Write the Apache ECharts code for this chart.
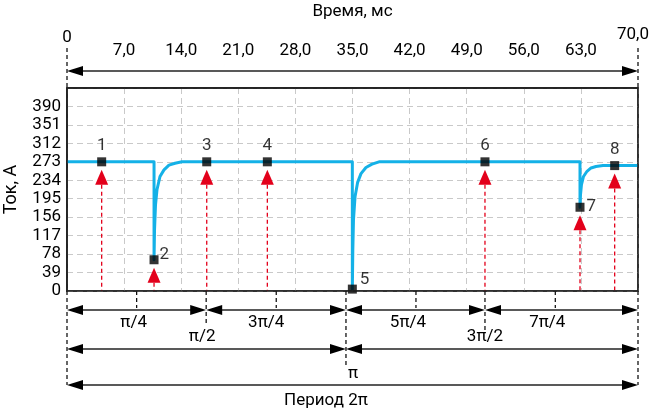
<!DOCTYPE html>
<html>
<head>
<meta charset="utf-8">
<script src="https://cdn.jsdelivr.net/npm/echarts@6/dist/echarts.min.js"></script>
<style>
  html, body { margin: 0; padding: 0; background: #fff; }
  #chart { width: 652px; height: 413px; }
</style>
</head>
<body>
<div id="chart"></div>
<script>
// Axis tick labels
const timeTickLabels = ['0', '7,0', '14,0', '21,0', '28,0', '35,0', '42,0', '49,0', '56,0', '63,0', '70,0'];
const currentTickLabels = ['0', '39', '78', '117', '156', '195', '234', '273', '312', '351', '390'];

// Current waveform (ms, A)
const curveTime = [
  0, 10.67, 10.67, 10.73, 10.85, 11.03, 11.40, 11.89, 12.50, 13.24, 14.10,
  34.98, 34.98, 35.04, 35.12, 35.31, 35.62, 36.04, 36.65, 37.39, 38.25,
  62.89, 62.89, 62.95, 63.07, 63.32, 63.75, 64.24, 64.85, 65.71, 70
];
const curveCurrent = [
  273, 273, 66, 129, 182, 214, 242, 256, 266, 270, 273,
  273, 4, 87, 150, 199, 229, 248, 261, 268, 273,
  273, 177, 203, 225, 242, 253, 260, 263, 265, 265
];

// Numbered measurement points
const pointNames = ['1', '2', '3', '4', '5', '6', '7', '8'];
const pointTime = [4.25, 10.67, 17.13, 24.56, 34.98, 51.24, 62.89, 67.14];
const pointCurrent = [273, 66, 273, 273, 4, 273, 177, 265];
const pointHasArrow = [true, true, true, true, false, true, true, true];

// Phase scale under the plot: positions (ms) and captions
const phaseTime = [0, 8.54, 17.06, 25.65, 34.2, 42.78, 51.24, 59.86, 70];
const phaseNames = ['', 'π/4', 'π/2', '3π/4', 'π', '5π/4', '3π/2', '7π/4', ''];
// Dimension spans: [start ms, end ms, row]
const spanStart = [0, 0, 17.06, 34.2, 51.24, 0, 34.2, 0];
const spanEnd = [70, 17.06, 34.2, 51.24, 70, 34.2, 70, 70];
const spanRow = [0, 1, 1, 1, 1, 2, 2, 3];

const FONT = 'Roboto, "Noto Sans", sans-serif';
const INK = '#000';
const FRAME = '#222';
const RED = '#e3001b';

// plot frame (pixels)
const GRID = { left: 67, right: 14, top: 88, bottom: 122 };
const W = 652, H = 413;

// layout of the annotation rows (pixel offsets from the plot frame)
const rowOffset = [-17, 19, 58, 94];
// dashed guide length below the plot for each phase mark
const guideLen = [94, 17, 32, 17, 76, 17, 39, 17, 94];
// caption placement for each phase mark [dx, dy below plot]
const captionPos = [[0, 0], [-3, 32], [-4, 46], [-10, 32], [7, 83], [-8, 32], [0, 46], [-8, 32], [0, 0]];
const labelPos = ['top', 'right', 'top', 'top', 'right', 'top', 'right', 'top'];
const labelOffset = [[0, 0], [-2, -5], [0, 0], [0, 0], [0, -9], [0, 0], [-1, 0], [0, 0]];

const lineData = curveTime.map((t, i) => [t, curveCurrent[i]]);
const pointData = pointTime.map((t, i) => ({
  value: [t, pointCurrent[i]],
  label: { position: labelPos[i], offset: labelOffset[i], formatter: pointNames[i] }
}));
const arrowData = pointTime.map((t, i) => [t, pointCurrent[i]]).filter((d, i) => pointHasArrow[i]);
const spanData = spanStart.map((s, i) => [s, spanEnd[i], spanRow[i]]);
const phaseData = phaseTime.map((t, i) => [t, i]);

const Y_MAX = 429;

function arrowHead(x, y, dir) {
  // filled dimension arrow, tip at (x, y), pointing left (dir=-1) or right (dir=1)
  const L = 16, Hh = 5;
  return {
    type: 'polygon',
    shape: { points: [[x, y], [x - dir * L, y - Hh], [x - dir * L, y + Hh]] },
    style: { fill: INK }
  };
}

const chart = echarts.init(document.getElementById('chart'), null, { renderer: 'canvas' });

chart.setOption({
  animation: false,
  backgroundColor: '#fff',
  textStyle: { fontFamily: FONT },
  grid: {
    left: GRID.left, right: GRID.right, top: GRID.top, bottom: GRID.bottom,
    containLabel: false,
    outerBoundsMode: 'none',
    show: true, borderColor: FRAME, borderWidth: 1.5, backgroundColor: 'transparent'
  },
  xAxis: {
    type: 'value',
    position: 'top',
    min: 0, max: 70, interval: 7,
    name: 'Время, мс',
    nameLocation: 'middle',
    nameGap: 68,
    nameTextStyle: { fontSize: 17, color: INK, fontFamily: FONT },
    axisLine: { show: true, onZero: false, lineStyle: { color: FRAME, width: 1.5 } },
    axisTick: { show: false },
    axisLabel: {
      margin: 29,
      fontSize: 17,
      color: INK,
      fontFamily: FONT,
      showMinLabel: true,
      showMaxLabel: true,
      formatter: function (v) {
        const i = Math.round(v / 7);
        if (i === 0) return '{first|' + timeTickLabels[i] + '}';
        if (i === 10) return '{last|' + timeTickLabels[i] + '}';
        return timeTickLabels[i];
      },
      rich: {
        first: { fontSize: 17, color: INK, fontFamily: FONT, padding: [0, 0, 13, 0] },
        last: { fontSize: 17, color: INK, fontFamily: FONT, padding: [0, 10, 16, 0] }
      }
    },
    splitLine: { show: true, lineStyle: { color: '#c9c9c9', width: 1, type: [6, 4] } }
  },
  yAxis: {
    type: 'value',
    min: 0, max: Y_MAX, interval: 39,
    name: 'Ток, А',
    nameLocation: 'middle',
    nameGap: 47,
    nameRotate: 90,
    nameTextStyle: { fontSize: 18, color: INK, fontFamily: FONT },
    axisLine: { show: true, onZero: false, lineStyle: { color: FRAME, width: 1.5 } },
    axisTick: { show: false },
    axisLabel: {
      margin: 6,
      fontSize: 17,
      color: INK,
      fontFamily: FONT,
      formatter: function (v) {
        const i = Math.round(v / 39);
        return i < currentTickLabels.length ? currentTickLabels[i] : '';
      }
    },
    splitLine: { show: true, lineStyle: { color: '#c9c9c9', width: 1, type: [6, 4] } }
  },
  series: [
    {
      // phase scale: dashed guides and captions below the plot
      type: 'custom',
      coordinateSystem: 'cartesian2d',
      data: phaseData,
      silent: true,
      z: 1,
      renderItem: function (params, api) {
        const i = api.value(1);
        const x = api.coord([api.value(0), 0])[0];
        const yBottom = api.coord([0, 0])[1];
        const yTop = api.coord([0, Y_MAX])[1];
        const children = [{
          type: 'line',
          shape: { x1: x, y1: yBottom, x2: x, y2: yBottom + guideLen[i] },
          style: { stroke: INK, lineWidth: 1.2, lineDash: [4, 3] }
        }];
        if (i === 0 || i === phaseTime.length - 1) {
          children.push({
            type: 'line',
            shape: { x1: x, y1: yTop - 40, x2: x, y2: yTop },
            style: { stroke: INK, lineWidth: 1.2, lineDash: [4, 3] }
          });
        }
        if (phaseNames[i]) {
          children.push({
            type: 'text',
            x: x + captionPos[i][0],
            y: yBottom + captionPos[i][1],
            style: {
              text: phaseNames[i], fill: INK, font: '17px ' + FONT,
              align: 'center', verticalAlign: 'middle'
            }
          });
        }
        return { type: 'group', children: children };
      }
    },
    {
      // dimension arrows above and below the plot
      type: 'custom',
      coordinateSystem: 'cartesian2d',
      data: spanData,
      silent: true,
      z: 2,
      renderItem: function (params, api) {
        const x0 = api.coord([api.value(0), 0])[0];
        const x1 = api.coord([api.value(1), 0])[0];
        const row = api.value(2);
        const yBottom = api.coord([0, 0])[1];
        const yTop = api.coord([0, Y_MAX])[1];
        const y = row === 0 ? yTop + rowOffset[0] : yBottom + rowOffset[row];
        return {
          type: 'group',
          children: [
            {
              type: 'line',
              shape: { x1: x0 + 4, y1: y, x2: x1 - 4, y2: y },
              style: { stroke: FRAME, lineWidth: 1.5 }
            },
            arrowHead(x0, y, -1),
            arrowHead(x1, y, 1)
          ]
        };
      }
    },
    {
      type: 'line',
      data: lineData,
      smooth: false,
      showSymbol: false,
      silent: true,
      z: 3,
      lineStyle: { color: '#14b1e7', width: 3, cap: 'butt', join: 'round' }
    },
    {
      // red dashed pointers under the measurement points
      type: 'custom',
      coordinateSystem: 'cartesian2d',
      data: arrowData,
      silent: true,
      z: 4,
      renderItem: function (params, api) {
        const p = api.coord([api.value(0), api.value(1)]);
        const yBottom = api.coord([api.value(0), 0])[1];
        const tip = p[1] + 8;
        const base = tip + 15;
        return {
          type: 'group',
          children: [
            {
              type: 'line',
              shape: { x1: p[0], y1: base, x2: p[0], y2: yBottom },
              style: { stroke: RED, lineWidth: 1.3, lineDash: [4, 3] }
            },
            {
              type: 'polygon',
              shape: { points: [[p[0], tip], [p[0] - 6.5, base], [p[0] + 6.5, base]] },
              style: { fill: RED }
            }
          ]
        };
      }
    },
    {
      type: 'scatter',
      data: pointData,
      symbol: 'rect',
      symbolSize: 9,
      silent: true,
      z: 5,
      itemStyle: { color: '#000' },
      label: {
        show: true,
        fontSize: 17,
        color: INK,
        fontFamily: FONT,
        distance: 3
      }
    }
  ],
  graphic: [
    {
      // solid plot frame
      type: 'rect',
      silent: true,
      z: 10,
      shape: {
        x: GRID.left, y: GRID.top,
        width: W - GRID.left - GRID.right, height: H - GRID.top - GRID.bottom
      },
      style: { fill: null, stroke: FRAME, lineWidth: 1.5 }
    },
    {
      type: 'text',
      left: 'center',
      top: 392,
      style: { text: 'Период 2π', fill: INK, font: '17px ' + FONT }
    }
  ]
});
</script>
</body>
</html>
